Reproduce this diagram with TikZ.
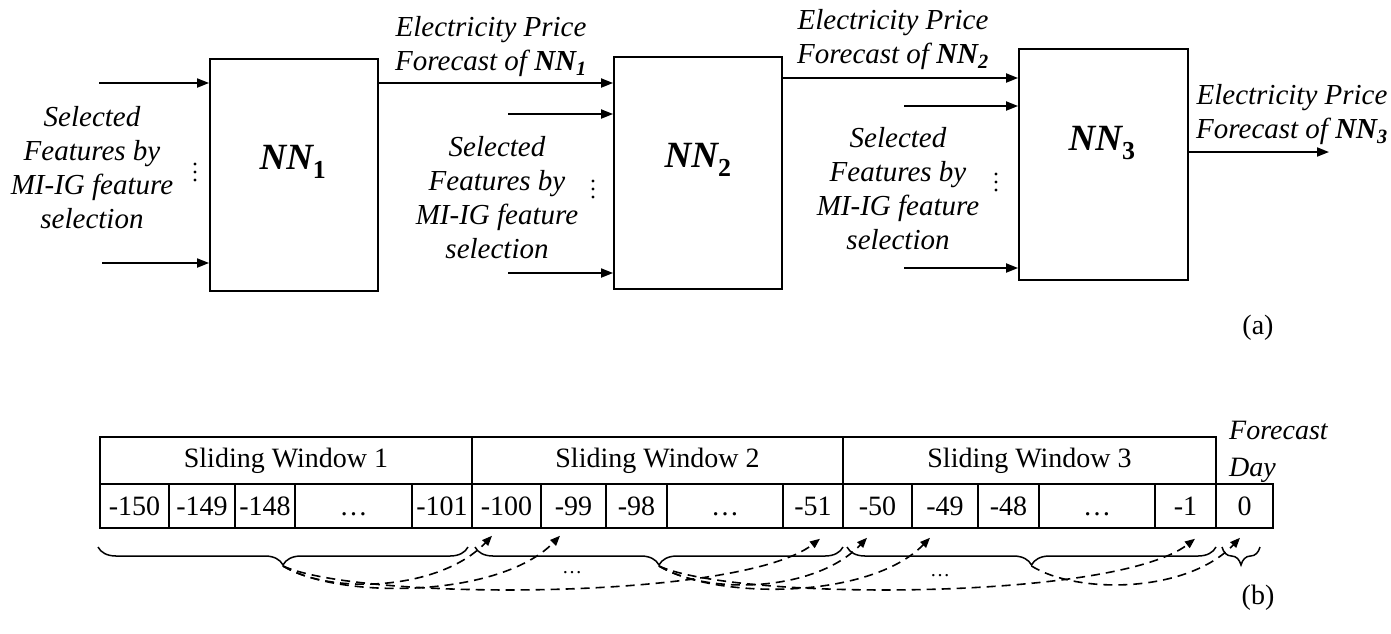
\documentclass[tikz,border=0pt]{standalone}
\usepackage{fontspec}
\setmainfont{Liberation Serif}
\usetikzlibrary{arrows.meta,decorations.pathreplacing,calc}
\begin{document}
\begin{tikzpicture}[x=1pt,y=-1pt,
  nnbox/.style={draw,line width=1.8pt,minimum width=168pt,minimum height=232pt,inner sep=0pt},
  arr/.style={line width=1.8pt,-{Triangle[length=12pt,width=9pt]}},
  darr/.style={line width=1.6pt,dash pattern=on 9pt off 6pt,-{Triangle[length=10pt,width=8pt]}},
  itxt/.style={font=\fontsize{29}{34}\selectfont\itshape,align=center,inner sep=0pt},
  nnlab/.style={font=\fontsize{37}{40}\selectfont\bfseries\itshape,inner sep=0pt},
  vdot/.style={fill=black,draw=none},
  cell/.style={draw,line width=1.5pt,inner sep=0pt,font=\fontsize{28}{30}\selectfont},
  numcell/.style={cell,minimum height=44pt,text height=19pt,text depth=0pt},
  brc/.style={decorate,decoration={brace,mirror,amplitude=18pt},line width=1.5pt},
  lbl/.style={font=\fontsize{28}{30}\selectfont,inner sep=0pt}
]
\useasboundingbox (0,0) rectangle (1391,633);

% ---------- (a) ----------
\node[nnbox] (nn1) at (294,175) {};
\node[nnbox] (nn2) at (698,173) {};
\node[nnbox,minimum width=169pt,minimum height=231pt] (nn3) at (1103.5,164.5) {};

\node[nnlab] (l1) at (293,162) {NN\textsubscript{\upshape 1}};
\node[nnlab] (l2) at (698,160) {NN\textsubscript{\upshape 2}};
\node[nnlab] (l3) at (1102,143) {NN\textsubscript{\upshape 3}};

% inputs NN1
\coordinate (i1a) at (99,83);
\coordinate (i1b) at (102,263);
\draw[arr] (i1a) -- (i1a -| nn1.west);
\draw[arr] (i1b) -- (i1b -| nn1.west);
\node[itxt] (s1) at (92,168) {Selected\\Features by\\MI-IG feature\\selection};
\foreach \yy in {164,172,180} \fill[vdot] (195,\yy) circle (1.6pt);

% NN1 -> NN2
\coordinate (k12) at (0,83);
\draw[arr] (nn1.east |- k12) -- (nn2.west |- k12);
\node[itxt] (f1) at (491,47) {Electricity Price\\Forecast of {\bfseries NN\textsubscript{1}}};

% inputs NN2
\coordinate (i2a) at (508,114);
\coordinate (i2b) at (508,273);
\draw[arr] (i2a) -- (i2a -| nn2.west);
\draw[arr] (i2b) -- (i2b -| nn2.west);
\node[itxt] (s2) at (497,198) {Selected\\Features by\\MI-IG feature\\selection};
\foreach \yy in {181,189,197} \fill[vdot] (593,\yy) circle (1.6pt);

% NN2 -> NN3
\coordinate (k23) at (0,78);
\draw[arr] (nn2.east |- k23) -- (nn3.west |- k23);
\node[itxt] (f2) at (893,40) {Electricity Price\\Forecast of {\bfseries NN\textsubscript{2}}};

% inputs NN3
\coordinate (i3a) at (904,106);
\coordinate (i3b) at (904,268);
\draw[arr] (i3a) -- (i3a -| nn3.west);
\draw[arr] (i3b) -- (i3b -| nn3.west);
\node[itxt] (s3) at (898,189) {Selected\\Features by\\MI-IG feature\\selection};
\foreach \yy in {174,182,190} \fill[vdot] (996,\yy) circle (1.6pt);

% output
\coordinate (o3) at (1329,152);
\draw[arr] (nn3.east |- o3) -- (o3);
\node[itxt] (f3) at (1292,115) {Electricity Price\\Forecast of {\bfseries NN\textsubscript{3}}};

\node[lbl] (pa) at (1258,328) {(a)};

% ---------- (b) ----------
\node[cell,minimum width=372pt,minimum height=47pt] (w1) at (286,460.5) {Sliding Window 1};
\node[cell,minimum width=371pt,minimum height=47pt] (w2) at (657.5,460.5) {Sliding Window 2};
\node[cell,minimum width=373pt,minimum height=47pt] (w3) at (1029.5,460.5) {Sliding Window 3};

\foreach \l/\r/\t/\n in {100/169/-150/c150, 169/235/-149/c149, 235/295/-148/c148, 295/412/…/e1, 412/472/-101/c101,
  472/541/-100/c100, 541/606/-99/c99, 606/667/-98/c98, 667/783/…/e2, 783/843/-51/c51,
  843/912/-50/c50, 912/978/-49/c49, 978/1039/-48/c48, 1039/1155/…/e3, 1155/1216/-1/c1,
  1216/1273/0/c0}{
  \pgfmathsetmacro\cx{(\l+\r)/2}
  \pgfmathsetmacro\cw{\r-\l}
  \node[numcell,minimum width=\cw pt] (\n) at (\cx,506) {\t};
}

\node[itxt,align=left,anchor=west,font=\fontsize{28}{37}\selectfont\itshape] (fd) at (1229,452) {Forecast\\Day};

% braces
\coordinate (b1s) at (98,547);  \coordinate (b1e) at (468,547);
\coordinate (b2s) at (475,547); \coordinate (b2e) at (843,547);
\coordinate (b3s) at (847,547); \coordinate (b3e) at (1216,547);
\coordinate (b4s) at (1222,547); \coordinate (b4e) at (1260,547);
\draw[brc] (b1s) -- (b1e);
\draw[brc] (b2s) -- (b2e);
\draw[brc] (b3s) -- (b3e);
\draw[brc] (b4s) -- (b4e);
\coordinate (t1) at (283,566);
\coordinate (t2) at (659,566);
\coordinate (t3) at (1031.5,566);

% dashed curves
\draw[darr] (t1) .. controls +(47,29) and +(-52,55) .. ($(c100.south)+(-14.5,7)$);
\draw[darr] (t1) .. controls +(57,34) and +(-60,62) .. ($(c99.south)+(-13.5,7)$);
\draw[darr] (t1) .. controls +(77,35) and +(-80,62) .. ($(c51.south)+(7,10)$);
\draw[darr] (t2) .. controls +(47,29) and +(-52,55) .. ($(c50.south)+(-10.5,9)$);
\draw[darr] (t2) .. controls +(57,34) and +(-60,62) .. ($(c49.south)+(-15,9)$);
\draw[darr] (t2) .. controls +(77,35) and +(-80,62) .. ($(c1.south)+(9.5,10)$);
\draw[darr] (t3) .. controls +(47,29) and +(-52,55) .. ($(c0.south)+(-4.5,9)$);

\node[font=\fontsize{20}{20}\selectfont,inner sep=0pt] (el1) at (572,573) {…};
\node[font=\fontsize{20}{20}\selectfont,inner sep=0pt] (el2) at (940,576) {…};

\node[lbl] (pb) at (1258,598) {(b)};
\end{tikzpicture}
\end{document}
